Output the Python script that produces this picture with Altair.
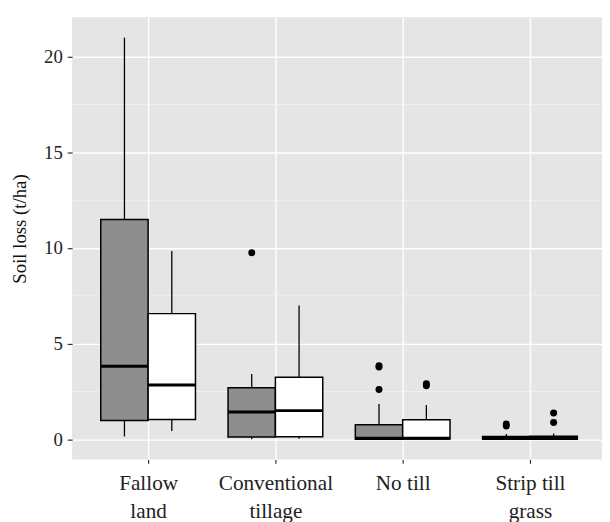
import altair as alt
import pandas as pd

# ---- data ----
categories = ["Fallow land", "Conventional tillage", "No till", "Strip till grass"]
label_lines = [["Fallow", "land"], ["Conventional", "tillage"], ["No till"], ["Strip till", "grass"]]
series = ["Series 1", "Series 2"]

s1_lower = [0.15, 0.00, 0.00, 0.00]
s1_q1 = [0.98, 0.12, 0.00, 0.00]
s1_median = [3.82, 1.43, 0.05, 0.05]
s1_q3 = [11.49, 2.70, 0.76, 0.15]
s1_upper = [21.0, 3.41, 1.84, 0.28]
s1_outliers = [[], [9.75], [3.85, 3.78, 2.60], [0.80, 0.70]]

s2_lower = [0.43, 0.03, 0.00, 0.00]
s2_q1 = [1.03, 0.13, 0.02, 0.00]
s2_median = [2.84, 1.50, 0.06, 0.06]
s2_q3 = [6.57, 3.24, 1.02, 0.16]
s2_upper = [9.84, 7.00, 1.79, 0.30]
s2_outliers = [[], [], [2.90, 2.80], [1.37, 0.88]]

y_ticks = [0, 5, 10, 15, 20]
y_minor = [2.5, 7.5, 12.5, 17.5]

# ---- build tables ----
BOX_W = 0.372  # box width in category units
rows, out_rows = [], []
stats = [
    (series[0], s1_lower, s1_q1, s1_median, s1_q3, s1_upper, s1_outliers, -1),
    (series[1], s2_lower, s2_q1, s2_median, s2_q3, s2_upper, s2_outliers, 1),
]
for name, lo, q1, med, q3, hi, outs, side in stats:
    for i, cat in enumerate(categories):
        pos = i + 1
        left = pos if side > 0 else pos - BOX_W
        right = pos + BOX_W if side > 0 else pos
        center = (left + right) / 2
        rows.append(dict(category=cat, series=name, left=left, right=right, center=center,
                         lower=lo[i], q1=q1[i], median=med[i], q3=q3[i], upper=hi[i]))
        for o in outs[i]:
            out_rows.append(dict(category=cat, series=name, center=center, value=o))
df = pd.DataFrame(rows)
df_out = pd.DataFrame(out_rows)
df_minor = pd.DataFrame({"v": y_minor})

FONT = "'Liberation Serif', 'DejaVu Serif', serif"
xscale = alt.Scale(domain=[0.403, 4.566], nice=False, zero=False)
yscale = alt.Scale(domain=[-1.05, 22.06], nice=False, zero=False)

label_expr = ""
for i, lines in enumerate(label_lines):
    arr = "[" + ",".join("'" + l + "'" for l in lines) + "]"
    label_expr += f"datum.value == {i + 1} ? {arr} : "
label_expr += "''"

xaxis = alt.Axis(values=[1, 2, 3, 4], labelExpr=label_expr, title=None, grid=True,
                 gridColor="white", gridWidth=1.4, domain=False, tickSize=4,
                 tickColor="#333333", tickWidth=1.2, labelFont=FONT, labelFontSize=21.5,
                 labelLineHeight=28, labelColor="#222222", labelPadding=10,
                 labelOverlap=False, labelFlush=False, labelBound=False)
yaxis = alt.Axis(values=y_ticks, title="Soil loss (t/ha)", grid=True, gridColor="white",
                 gridWidth=1.4, domain=False, tickSize=5, tickColor="#333333", tickWidth=1.2,
                 labelFont=FONT, labelFontSize=19, labelColor="#222222", labelPadding=5,
                 titleFont=FONT, titleFontSize=19, titleFontWeight="normal",
                 titleColor="#111111", titlePadding=14, titleY=214)

minor = alt.Chart(df_minor).mark_rule(color="#F2F2F2", strokeWidth=0.8).encode(
    y=alt.Y("v:Q", scale=yscale, axis=yaxis))

base = alt.Chart(df)
whisk_lo = base.mark_rule(color="black", strokeWidth=1.3).encode(
    x=alt.X("center:Q", scale=xscale, axis=xaxis),
    y=alt.Y("lower:Q", scale=yscale, axis=yaxis), y2="q1:Q")
whisk_hi = base.mark_rule(color="black", strokeWidth=1.3).encode(
    x=alt.X("center:Q", scale=xscale, axis=xaxis),
    y=alt.Y("q3:Q", scale=yscale, axis=yaxis), y2="upper:Q")
boxes = base.mark_bar(stroke="black", strokeWidth=1.5).encode(
    x=alt.X("left:Q", scale=xscale, axis=xaxis), x2="right:Q",
    y=alt.Y("q1:Q", scale=yscale, axis=yaxis), y2="q3:Q",
    fill=alt.Fill("series:N", scale=alt.Scale(domain=series, range=["#8e8e8e", "#ffffff"]),
                  legend=None))
medians = base.mark_rule(color="black", strokeWidth=3).encode(
    x=alt.X("left:Q", scale=xscale, axis=xaxis), x2="right:Q",
    y=alt.Y("median:Q", scale=yscale, axis=yaxis))
outliers = alt.Chart(df_out).mark_circle(color="black", opacity=1, size=50).encode(
    x=alt.X("center:Q", scale=xscale, axis=xaxis),
    y=alt.Y("value:Q", scale=yscale, axis=yaxis))

chart = alt.layer(minor, whisk_lo, whisk_hi, boxes, medians, outliers).properties(
    width=537, height=448,
    autosize=alt.AutoSizeParams(type="none"),
    padding={"left": 65, "top": 6, "right": 0, "bottom": 60},
).configure_view(fill="#E5E5E5", stroke=None)

chart.save("out.html", embed_options={"renderer": "svg", "actions": False})
